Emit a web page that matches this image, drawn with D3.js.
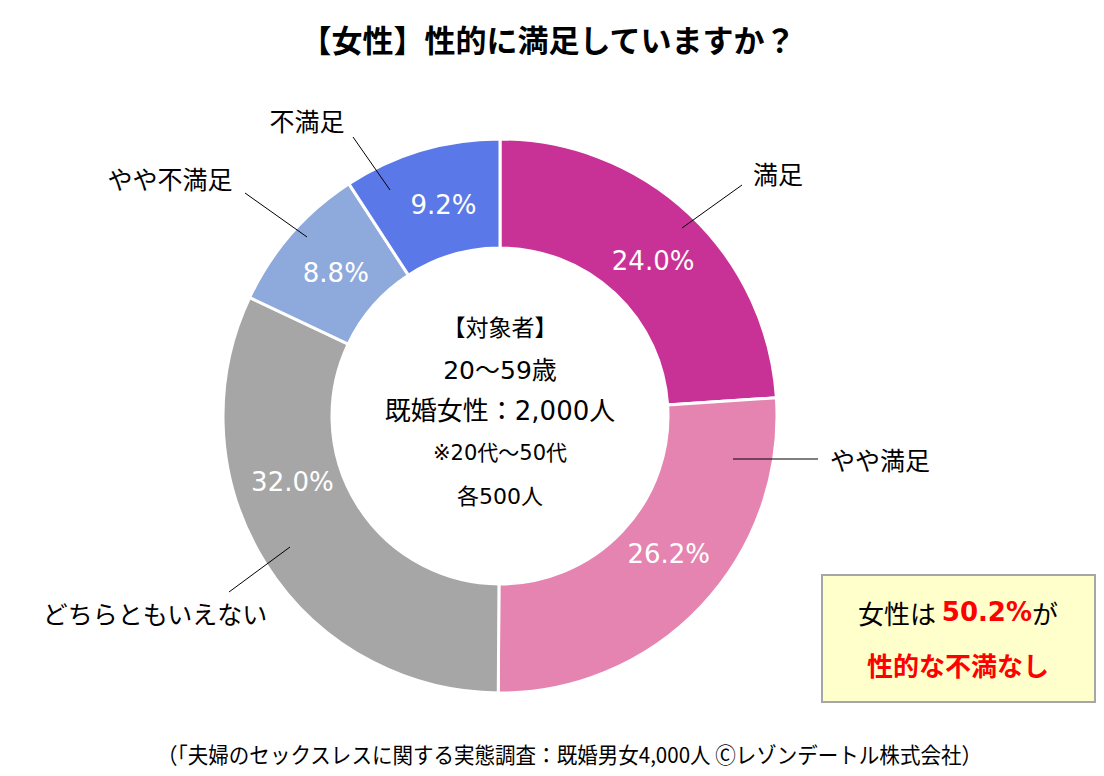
<!DOCTYPE html>
<html lang="ja">
<head>
    <meta charset="UTF-8">
    <title>女性 性的満足度</title>
    <script src="https://d3js.org/d3.v7.min.js"></script>
    <style>
        body { margin: 0; background: #fff; }
        text { font-family: 'DejaVu Sans', 'Noto Sans CJK JP', sans-serif; }
        .jp { font-family: 'Noto Sans CJK JP', sans-serif; }
    </style>
</head>
<body>
    <div id="chart"></div>
    <script>
        // data (clockwise from 12 o'clock)
        const categories = ["満足", "やや満足", "どちらともいえない", "やや不満足", "不満足"];
        const values = [24.0, 26.2, 32.0, 8.8, 9.2];
        const colors = ["#C83296", "#E584B0", "#A6A6A6", "#8EA9DB", "#5B78E8"];

        const titleText = "【女性】性的に満足していますか？";
        const centerLines = ["【対象者】", "20～59歳", "既婚女性：2,000人", "※20代～50代", "各500人"];
        const sourceText = "（「夫婦のセックスレスに関する実態調査：既婚男女4,000人 Ⓒレゾンデートル株式会社）";

        const width = 1104, height = 776;
        const cx = 500, cy = 416;
        const outerR = 277, innerR = 168;

        const svg = d3.select("#chart")
            .append("svg")
            .attr("width", width)
            .attr("height", height);

        // title
        svg.append("text")
            .attr("class", "jp")
            .attr("x", 548)
            .attr("y", 38)
            .attr("text-anchor", "middle")
            .attr("dominant-baseline", "central")
            .style("font-size", "31px")
            .style("font-weight", "bold")
            .text(titleText);

        const g = svg.append("g")
            .attr("transform", `translate(${cx},${cy})`);

        const pie = d3.pie().sort(null).value(d => d);
        const arcs = pie(values);

        const arc = d3.arc().innerRadius(innerR).outerRadius(outerR);

        g.selectAll("path.slice")
            .data(arcs)
            .join("path")
            .attr("class", "slice")
            .attr("d", arc)
            .attr("fill", (d, i) => colors[i])
            .attr("stroke", "#fff")
            .attr("stroke-width", 3);

        // percentage labels (Excel nudged two of them off the centroid)
        const labelNudge = [1.5, -4, 14.4, 0, 1.5];
        const labelR = 218;
        g.selectAll("text.pct")
            .data(arcs)
            .join("text")
            .attr("class", "pct")
            .attr("x", (d, i) => labelR * Math.sin((d.startAngle + d.endAngle) / 2 + labelNudge[i] * Math.PI / 180))
            .attr("y", (d, i) => -labelR * Math.cos((d.startAngle + d.endAngle) / 2 + labelNudge[i] * Math.PI / 180))
            .attr("text-anchor", "middle")
            .attr("dominant-baseline", "central")
            .attr("fill", "#fff")
            .style("font-size", "26px")
            .text(d => d3.format(".1f")(d.data) + "%");

        // callouts: leader line (from, to) and label centre, relative to donut centre
        const callouts = [
            {line: [182, -188, 242, -231], label: [278, -243]},
            {line: [233, 43, 318, 43], label: [380, 43]},
            {line: [-210, 131, -271, 176], label: [-345, 197]},
            {line: [-193, -179, -255, -223], label: [-330, -238]},
            {line: [-110, -226, -147, -279], label: [-193, -296]}
        ];

        g.selectAll("line.leader")
            .data(callouts)
            .join("line")
            .attr("class", "leader")
            .attr("x1", d => d.line[0]).attr("y1", d => d.line[1])
            .attr("x2", d => d.line[2]).attr("y2", d => d.line[3])
            .attr("stroke", "#000")
            .attr("stroke-width", 1);

        g.selectAll("text.cat")
            .data(callouts)
            .join("text")
            .attr("class", "cat jp")
            .attr("x", d => d.label[0])
            .attr("y", d => d.label[1])
            .attr("text-anchor", "middle")
            .attr("dominant-baseline", "central")
            .style("font-size", "25px")
            .text((d, i) => categories[i]);

        // text inside the hole
        const centerY = [-88, -46, -5, 37, 80];
        const centerSize = [23, 25, 26, 21, 22];
        g.selectAll("text.center")
            .data(centerLines)
            .join("text")
            .attr("class", "center")
            .attr("x", 0)
            .attr("y", (d, i) => centerY[i])
            .attr("text-anchor", "middle")
            .attr("dominant-baseline", "central")
            .style("font-size", (d, i) => centerSize[i] + "px")
            .text(d => d);

        // callout box
        const box = svg.append("g").attr("transform", "translate(822,575)");
        box.append("rect")
            .attr("width", 273)
            .attr("height", 127)
            .attr("fill", "#FFFFCC")
            .attr("stroke", "#A6A6A6")
            .attr("stroke-width", 2);
        const t1 = box.append("text")
            .attr("x", 136)
            .attr("y", 37)
            .attr("text-anchor", "middle")
            .attr("dominant-baseline", "central")
            .style("font-size", "26px");
        t1.append("tspan").attr("class", "jp").text("女性は ");
        t1.append("tspan").attr("fill", "#FF0000").style("font-weight", "bold").text("50.2%");
        t1.append("tspan").attr("class", "jp").text("が");
        box.append("text")
            .attr("class", "jp")
            .attr("x", 136)
            .attr("y", 89)
            .attr("text-anchor", "middle")
            .attr("dominant-baseline", "central")
            .attr("fill", "#FF0000")
            .style("font-size", "26px")
            .style("font-weight", "bold")
            .text("性的な不満なし");

        // source line
        svg.append("text")
            .attr("class", "jp")
            .attr("x", 157)
            .attr("y", 753)
            .attr("dominant-baseline", "central")
            .attr("textLength", 825)
            .attr("lengthAdjust", "spacingAndGlyphs")
            .style("font-size", "22px")
            .text(sourceText);
    </script>
</body>
</html>
